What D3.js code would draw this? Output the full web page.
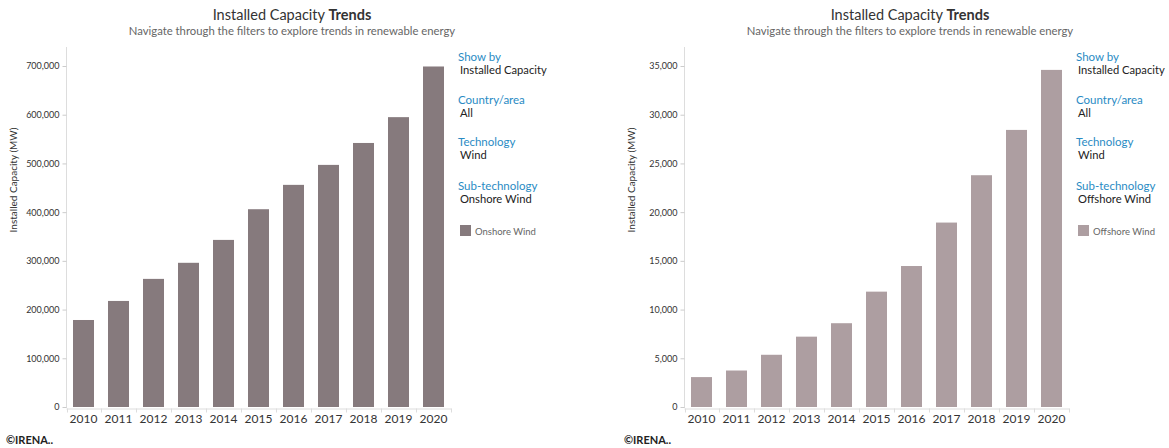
<!DOCTYPE html>
<html>
<head>
<meta charset="utf-8">
<script src="https://cdn.jsdelivr.net/npm/d3@7"></script>
<style>
  body { margin: 0; background: #fff; }
  svg { font-family: Lato, "Open Sans", sans-serif; }
</style>
</head>
<body>
<svg id="chart" width="1169" height="448"></svg>
<script>
// data
const years = ["2010", "2011", "2012", "2013", "2014", "2015", "2016", "2017", "2018", "2019", "2020"];
const onshoreValues = [178600, 217700, 263000, 296000, 343000, 406000, 456000, 497000, 542000, 595000, 699000];
const offshoreValues = [3070, 3745, 5360, 7220, 8600, 11840, 14470, 18930, 23790, 28440, 34600];
const onshoreTicks = [0, 100000, 200000, 300000, 400000, 500000, 600000, 700000];
const offshoreTicks = [0, 5000, 10000, 15000, 20000, 25000, 30000, 35000];
const filterLabels = ["Show by", "Country/area", "Technology", "Sub-technology"];
const onshoreFilters = ["Installed Capacity", "All", "Wind", "Onshore Wind"];
const offshoreFilters = ["Installed Capacity", "All", "Wind", "Offshore Wind"];

const svg = d3.select("#chart");

function drawPanel(offset, values, ticks, filters, series, barColor) {
  const g = svg.append("g").attr("transform", `translate(${offset},0)`);
  const top = ticks[ticks.length - 1];

  // title
  const title = g.append("text")
    .attr("x", 292).attr("y", 20)
    .attr("text-anchor", "middle")
    .attr("font-size", 14.5).attr("fill", "#333");
  title.append("tspan").text("Installed Capacity ");
  title.append("tspan").attr("font-weight", "bold").text("Trends");
  g.append("text")
    .attr("x", 292).attr("y", 35)
    .attr("text-anchor", "middle")
    .attr("font-size", 11.3).attr("fill", "#666")
    .text("Navigate through the filters to explore trends in renewable energy");

  // scales
  const x = d3.scaleBand().domain(years).range([66, 451]).paddingInner(0.4).paddingOuter(0.2);
  const y = d3.scaleLinear().domain([0, top]).range([407, 66]);

  // y axis line
  g.append("line")
    .attr("x1", 66.5).attr("x2", 66.5).attr("y1", 47).attr("y2", 408)
    .attr("stroke", "#ddd");

  const yAxis = g.append("g")
    .attr("transform", "translate(66.5,0)")
    .call(d3.axisLeft(y).tickValues(ticks).tickSize(4).tickFormat(d3.format(",")));
  yAxis.select(".domain").remove();
  yAxis.selectAll(".tick line").attr("stroke", "#ccc");
  yAxis.selectAll(".tick text").attr("font-size", 9).attr("fill", "#333").attr("font-family", "Lato, sans-serif");

  // x axis
  const xAxis = g.append("g")
    .attr("transform", "translate(0,408.5)")
    .call(d3.axisBottom(x).tickSize(0).tickSizeOuter(0));
  xAxis.select(".domain").attr("stroke", "#ddd");
  xAxis.selectAll(".tick text").attr("font-size", 12).attr("fill", "#333").attr("dy", "0.95em").attr("font-family", "Lato, sans-serif");
  // separators between year labels
  const step = x.step();
  xAxis.selectAll(".sep")
    .data(years.concat(["end"]))
    .join("line")
    .attr("class", "sep")
    .attr("x1", (d, i) => 66 + 0.5 + i * step + (i === 0 ? 1 : 0))
    .attr("x2", (d, i) => 66 + 0.5 + i * step + (i === 0 ? 1 : 0))
    .attr("y1", 0).attr("y2", 4)
    .attr("stroke", "#ddd");

  // bars
  g.append("g")
    .selectAll("rect")
    .data(values)
    .join("rect")
    .attr("x", (d, i) => x(years[i]))
    .attr("width", x.bandwidth())
    .attr("y", d => y(d))
    .attr("height", d => y(0) - y(d))
    .attr("fill", barColor);

  // y label
  g.append("text")
    .attr("transform", "translate(17,180) rotate(-90)")
    .attr("text-anchor", "middle")
    .attr("font-size", 10).attr("fill", "#333")
    .text("Installed Capacity (MW)");

  // filter panel
  const filterTops = [61, 104, 146, 190];
  filterLabels.forEach((lab, i) => {
    g.append("text")
      .attr("x", 458).attr("y", filterTops[i])
      .attr("font-size", 11.5).attr("fill", "#2a8bc4")
      .text(lab);
    g.append("text")
      .attr("x", 460).attr("y", filterTops[i] + 13)
      .attr("font-size", 11.2).attr("fill", "#222")
      .text(filters[i]);
  });

  // legend
  g.append("rect")
    .attr("x", 460).attr("y", 225).attr("width", 11).attr("height", 11)
    .attr("fill", barColor);
  g.append("text")
    .attr("x", 475).attr("y", 235)
    .attr("font-size", 9.5).attr("fill", "#666")
    .text(series);

  // credit
  g.append("text")
    .attr("x", 6).attr("y", 444)
    .attr("font-size", 11).attr("font-weight", "bold").attr("fill", "#222")
    .text("©IRENA..");
}

drawPanel(0, onshoreValues, onshoreTicks, onshoreFilters, "Onshore Wind", "#867a7d");
drawPanel(618, offshoreValues, offshoreTicks, offshoreFilters, "Offshore Wind", "#ad9ea1");
</script>
</body>
</html>
